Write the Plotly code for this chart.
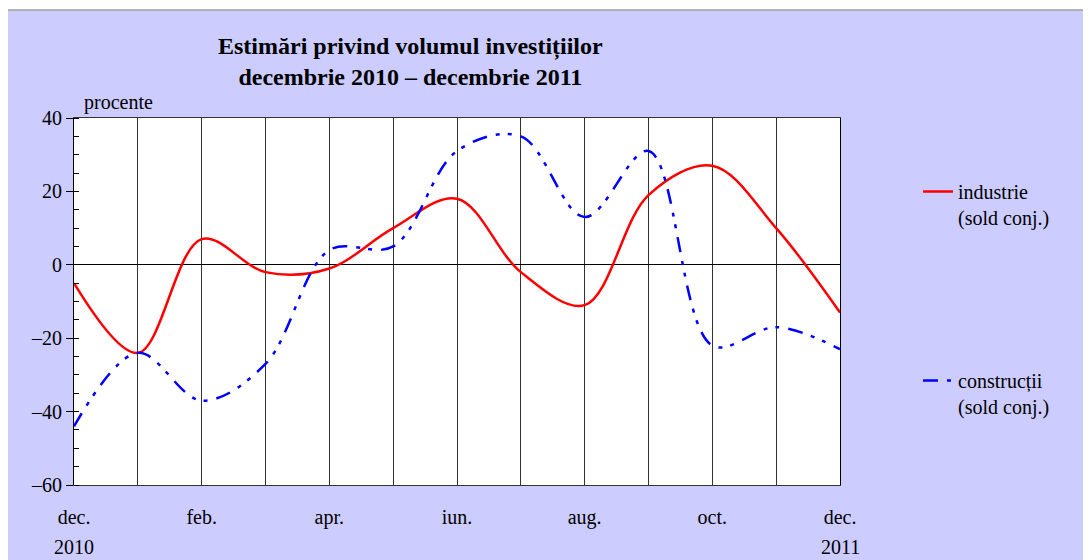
import plotly.graph_objects as go

# ---- data ----
months = ["dec. 2010", "ian.", "feb.", "mar.", "apr.", "mai", "iun.", "iul.",
          "aug.", "sep.", "oct.", "nov.", "dec. 2011"]
industrie = [-5, -24, 7, -2, -1, 10, 18, -2, -11, 19, 27, 10, -13]
constructii = [-44, -24, -37, -27, 4, 5, 31, 35, 13, 31, -22, -17, -23]
tick_labels = ["dec.", "", "feb.", "", "apr.", "", "iun.", "", "aug.", "", "oct.", "", "dec."]
year_labels = {0: "2010", 12: "2011"}
y_ticks = [40, 20, 0, -20, -40, -60]

x = list(range(len(months)))
FONT = "Liberation Serif, Times New Roman, serif"

fig = go.Figure()
fig.add_trace(go.Scatter(
    x=x, y=industrie, mode="lines", name="industrie<br>(sold conj.)",
    customdata=months,
    line=dict(color="#FF0000", width=2.5, shape="spline", smoothing=1.0),
    legend="legend"))
fig.add_trace(go.Scatter(
    x=x, y=constructii, mode="lines", name="construcții<br>(sold conj.)",
    customdata=months,
    line=dict(color="#0000FF", width=2.5, shape="spline", smoothing=1.0,
              dash="15px,9px,4px,8px,4px,9px"),
    legend="legend2"))

OFF = 8  # page body margin
L, R, T, B = 74, 840, 118, 485      # target plot area in window pixels
W, H = 1091 - OFF, 560 - OFF
pw, ph = R - L, B - T

def px(xp):
    return (xp - L) / pw

def py(yp):
    return (B - yp) / ph

shapes = [
    dict(type="rect", xref="paper", yref="paper", layer="below",
         x0=px(5), x1=px(1100), y0=py(570), y1=py(10),
         fillcolor="#CCCCFF", line=dict(color="#A0A0A0", width=1.5)),
    dict(type="rect", xref="paper", yref="paper", layer="below",
         x0=0, x1=1, y0=0, y1=1, fillcolor="white", line=dict(width=0)),
]

annotations = [
    dict(text="<b>Estimări privind volumul investițiilor<br>decembrie 2010 – decembrie 2011</b>",
         xref="paper", yref="paper", x=px(410), y=py(62), xanchor="center", yanchor="middle",
         showarrow=False, font=dict(family=FONT, size=24, color="black")),
    dict(text="procente", xref="paper", yref="paper", x=px(82), y=py(103),
         xanchor="left", yanchor="middle", showarrow=False,
         font=dict(family=FONT, size=20, color="black")),
]
for k, v in year_labels.items():
    annotations.append(dict(text=v, xref="x", yref="paper", x=k, y=py(547),
                            xanchor="center", yanchor="middle", showarrow=False,
                            font=dict(family=FONT, size=20, color="black")))

fig.update_layout(
    width=W, height=H,
    margin=dict(l=L - OFF, r=W - (R - OFF), t=T - OFF, b=H - (B - OFF)),
    paper_bgcolor="white", plot_bgcolor="white",
    font=dict(family=FONT, size=20, color="black"),
    shapes=shapes, annotations=annotations,
    legend=dict(x=px(918), y=py(172), xanchor="left", yanchor="top",
                bgcolor="rgba(0,0,0,0)", font=dict(family=FONT, size=20),
                valign="top", itemwidth=30),
    legend2=dict(x=px(918), y=py(361), xanchor="left", yanchor="top",
                 bgcolor="rgba(0,0,0,0)", font=dict(family=FONT, size=20),
                 valign="top", itemwidth=30),
    showlegend=True,
)

fig.update_xaxes(
    range=[0, 12], tickmode="array", tickvals=x, ticktext=tick_labels,
    showgrid=True, gridcolor="#333333", gridwidth=1,
    showline=True, linecolor="#333333", linewidth=1, mirror=True,
    ticks="", ticklabelstandoff=14, zeroline=False,
    tickfont=dict(family=FONT, size=20, color="black"),
)
fig.update_yaxes(
    range=[-60, 40], tickmode="array", tickvals=y_ticks,
    ticktext=[str(v).replace("-", "–") for v in y_ticks],
    showgrid=False, zeroline=True, zerolinecolor="black", zerolinewidth=1,
    showline=True, linecolor="black", linewidth=1, mirror=True,
    ticks="outside", ticklen=7, tickcolor="black", tickwidth=1,
    minor=dict(dtick=5, ticks="inside", ticklen=5, tickcolor="black", tickwidth=1, showgrid=False),
    tickfont=dict(family=FONT, size=20, color="black"),
)

fig.write_html("out.html")
